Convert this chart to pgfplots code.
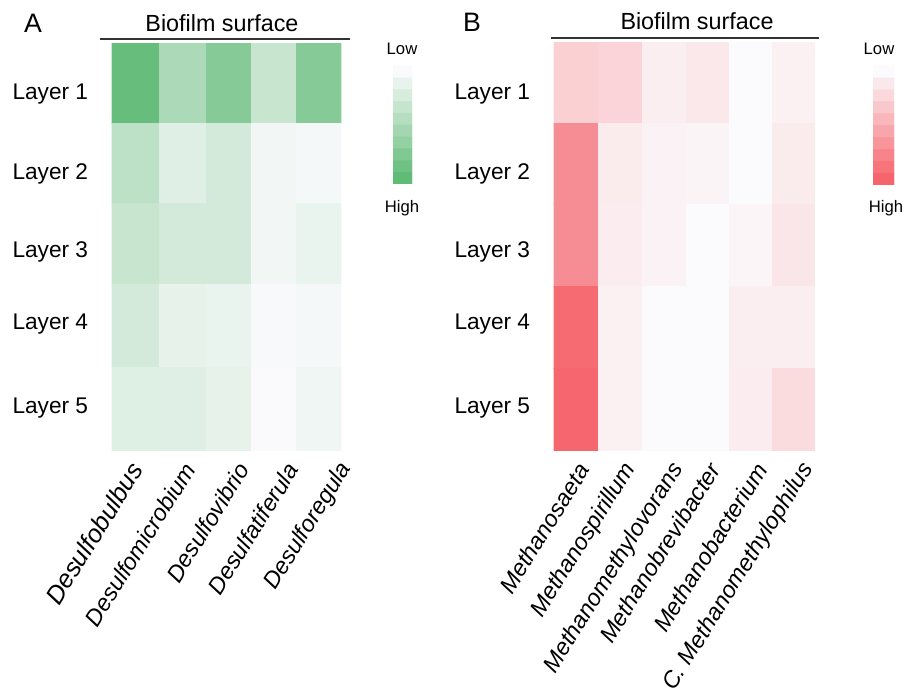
\documentclass[border=0pt]{standalone}
\usepackage{fontspec}
\setmainfont{Liberation Sans}
\usepackage{pgfplots}
\usepackage{pgfplotstable}
\pgfplotsset{compat=1.18}
\pgfplotsset{
  colormap={grn}{rgb255=(250,250,252) rgb255=(96,187,118)},
  colormap={rd}{rgb255=(251,250,252) rgb255=(246,100,108)},
  hm/.style={
    scale only axis, anchor=south west,
    y dir=reverse, enlargelimits=false,
    axis line style={draw=none}, tick style={draw=none},
    point meta min=0, point meta max=1,
    yticklabels={Layer 1,Layer 2,Layer 3,Layer 4,Layer 5},
    yticklabel style={font=\fontsize{17}{20}\selectfont, anchor=east, xshift=-14pt},
    xticklabel style={font=\fontsize{17.5}{20}\selectfont\itshape, rotate=58, anchor=east, yshift=-15pt},
  },
  cb/.style={
    scale only axis, anchor=south west, y dir=reverse, enlargelimits=false,
    hide axis, point meta min=0, point meta max=1,
    xmin=-0.5, xmax=1.5, ymin=-0.5, ymax=9.5,
  }
}
\pgfplotstableread{
x y v
135.5 83 0.95
183.5 83 0.50
229 83 0.75
274.5 83 0.33
319 83 0.75
135.5 163 0.40
183.5 163 0.17
229 163 0.25
274.5 163 0.05
319 163 0.03
135.5 244 0.33
183.5 244 0.25
229 244 0.25
274.5 244 0.05
319 244 0.10
135.5 325.5 0.25
183.5 325.5 0.13
229 325.5 0.10
274.5 325.5 0.01
319 325.5 0.03
135.5 409 0.18
183.5 409 0.17
229 409 0.13
274.5 409 0.00
319 409 0.07
}\dataA
\pgfplotstableread{
x y v
576 82.5 0.28
621 82.5 0.25
664.5 82.5 0.08
707.5 82.5 0.12
751 82.5 0.00
793.5 82.5 0.06
576 163.5 0.72
621 163.5 0.10
664.5 163.5 0.05
707.5 163.5 0.04
751 163.5 0.00
793.5 163.5 0.10
576 245 0.72
621 245 0.09
664.5 245 0.05
707.5 245 0.00
751 245 0.03
793.5 245 0.13
576 327 0.95
621 327 0.06
664.5 327 0.00
707.5 327 0.00
751 327 0.08
793.5 327 0.08
576 409.5 0.98
621 409.5 0.06
664.5 409.5 0.00
707.5 409.5 0.00
751 409.5 0.09
793.5 409.5 0.20
}\dataB
\pgfplotstableread{
x y v
0 0 0
1 0 0
0 1 0.111
1 1 0.111
0 2 0.222
1 2 0.222
0 3 0.333
1 3 0.333
0 4 0.444
1 4 0.444
0 5 0.556
1 5 0.556
0 6 0.667
1 6 0.667
0 7 0.778
1 7 0.778
0 8 0.889
1 8 0.889
0 9 1
1 9 1
}\dataCB
\begin{document}
\begin{tikzpicture}[x=0.75pt,y=0.75pt]
\useasboundingbox (0,0) rectangle (906,698);
% Panel A
\begin{axis}[hm, colormap name=grn,
  at={(83.625pt,185.4375pt)}, width=172.3125pt, height=305.8125pt,
  xmin=111.5, xmax=341.25, ymin=43, ymax=450.75,
  ytick={94,174,252,324,408},
  xtick={122,175,229,278,332},
  xticklabels={{\fontsize{19}{22}\selectfont Desulfobulbus},Desulfomicrobium,Desulfovibrio,Desulfatiferula,Desulforegula},
]
\addplot[matrix plot*, mesh/cols=5, point meta=explicit] table[x=x,y=y,meta=v]{\dataA};
\end{axis}
% Panel B
\begin{axis}[hm, colormap name=rd,
  at={(415.125pt,185.4375pt)}, width=195.9375pt, height=306.5625pt,
  xmin=553.5, xmax=814.75, ymin=42, ymax=450.75,
  ytick={94,174,252,324,408},
  xtick={569,616,664,700,747,794},
  xticklabels={Methanosaeta,Methanospirillum,Methanomethylovorans,Methanobrevibacter,Methanobacterium,C. Methanomethylophilus},
]
\addplot[matrix plot*, mesh/cols=6, point meta=explicit] table[x=x,y=y,meta=v]{\dataB};
\end{axis}
% colour bars
\begin{axis}[cb, colormap name=grn, at={(294.75pt,385.5pt)}, width=14.25pt, height=88.5pt]
\addplot[matrix plot*, mesh/cols=2, point meta=explicit] table[x=x,y=y,meta=v]{\dataCB};
\end{axis}
\begin{axis}[cb, colormap name=rd, at={(654.75pt,384.75pt)}, width=15.75pt, height=89.25pt]
\addplot[matrix plot*, mesh/cols=2, point meta=explicit] table[x=x,y=y,meta=v]{\dataCB};
\end{axis}
% titles
\draw[line width=1pt, black!80] (100,659) -- (350,659);
\draw[line width=1pt, black!80] (551,660) -- (819,660);
\node[font=\fontsize{17.5}{20}\selectfont] at (222,675) {Biofilm surface};
\node[font=\fontsize{17.5}{20}\selectfont] at (697,677) {Biofilm surface};
\node[font=\fontsize{20}{24}\selectfont] at (33,675) {A};
\node[font=\fontsize{20}{24}\selectfont] at (472,676) {B};
\node[font=\fontsize{12.5}{15}\selectfont] at (402,649) {Low};
\node[font=\fontsize{12.5}{15}\selectfont] at (402,490) {High};
\node[font=\fontsize{12.5}{15}\selectfont] at (879,649) {Low};
\node[font=\fontsize{12.5}{15}\selectfont] at (886,490) {High};
\end{tikzpicture}
\end{document}
